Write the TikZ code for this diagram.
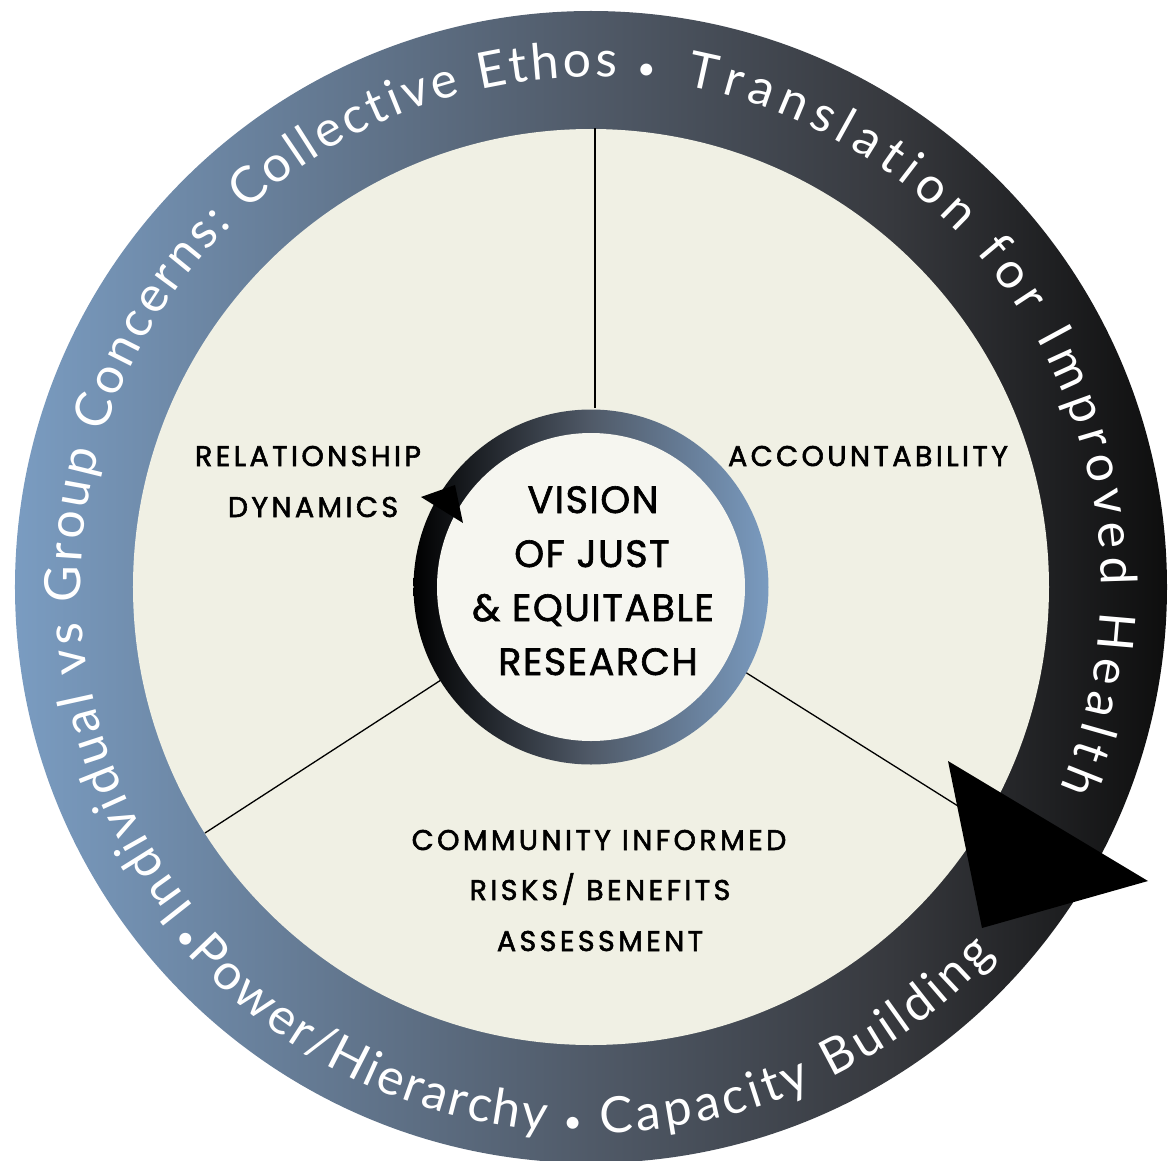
\documentclass[tikz,border=0pt]{standalone}
\usepackage{fontspec}
\usetikzlibrary{decorations.text}

% fonts
\newfontfamily\capsfam[LetterSpace=12,FakeBold=2]{Poppins}
\newfontfamily\hubfam[LetterSpace=4,FakeBold=1.6]{Poppins}
\newfontfamily\ringfam{Lato}
\newcommand\ringtext{\ringfam\fontsize{50}{50}\selectfont}
\newcommand\dotsize{\ringfam\fontsize{32}{32}\selectfont}

% colours
\definecolor{ringA}{RGB}{122,156,193}
\definecolor{ringB}{RGB}{80,90,104}
\definecolor{ringC}{RGB}{55,57,62}
\definecolor{ringD}{RGB}{14,14,14}
\definecolor{innerBlue}{RGB}{122,155,192}
\definecolor{beige}{RGB}{240,240,228}
\definecolor{hub}{RGB}{246,246,240}

% outer band: steel blue on the left fading to black on the right
\pgfdeclarehorizontalshading{outerring}{100bp}{%
  color(0bp)=(ringA); color(25bp)=(ringA); color(50bp)=(ringB);
  color(63bp)=(ringC); color(75bp)=(ringD); color(100bp)=(ringD)}
% hub ring: black on the left to blue on the right
\pgfdeclarehorizontalshading{hubring}{100bp}{%
  color(0bp)=(black); color(25bp)=(black); color(50bp)=(ringB);
  color(75bp)=(innerBlue); color(100bp)=(innerBlue)}

\begin{document}
\begin{tikzpicture}[x=1pt,y=1pt,
  divider/.style={line width=1.3pt, black},
  lbl/.style={font=\capsfam\fontsize{28.5}{28.5}\selectfont, anchor=base, inner sep=0pt, text=black},
  hubtxt/.style={font=\hubfam\fontsize{38}{38}\selectfont, anchor=base, inner sep=0pt, text=black},
  ringpath/.style={decorate, decoration={text along path, text color=white,
      text align=fit to path, text={#1}}}]
\useasboundingbox (-591,-573) rectangle (581,587);

% outer band and inner field
\shade[shading=outerring] (0,0) circle (576);
\fill[beige] (0,0) circle (458);

% three sector dividers
\coordinate (dTopIn) at (4,179);
\coordinate (dTopOut) at (4,459);
\coordinate (dLeftIn) at (-150,-93);
\coordinate (dLeftOut) at (-386,-246);
\coordinate (dRightIn) at (154,-85);
\coordinate (dRightOut) at (394,-236);
\draw[divider] (dTopIn) -- (dTopOut);
\draw[divider] (dLeftIn) -- (dLeftOut);
\draw[divider] (dRightIn) -- (dRightOut);

% hub ring and hub
\shade[shading=hubring] (0,0) circle (177.5);
\fill[hub] (0,0) circle (154);

% arrowhead on the hub ring
\fill[black] (-170,90) -- (-136,102) -- (-128,64) -- cycle;

% arrowhead on the outer band
\fill[black] (357,-174) -- (557,-294) -- (391,-341) -- cycle;

% lettering around the band
\path[ringpath={|\ringtext|Individual vs Group Concerns: Collective Ethos |\dotsize|•}]
  (219:510) arc[start angle=219, end angle=82.8, radius=510];
\path[ringpath={|\ringtext|Translation for Improved Health}]
  (79.3:510) arc[start angle=79.3, end angle=-23.2, radius=510];
\path[ringpath={|\dotsize|•|\ringtext|Power/Hierarchy |\dotsize|•}]
  (220:546) arc[start angle=220, end angle=269, radius=546];
\path[ringpath={|\ringtext|Capacity Building}]
  (271:546) arc[start angle=271, end angle=317.7, radius=546];

% sector labels
\node[lbl] (rel1) at (-283,121) {RELATIONSHIP};
\node[lbl] (rel2) at (-278,70) {DYNAMICS};
\node[lbl] (acc) at (277,121) {ACCOUNTABILITY};
\node[lbl] (com1) at (8,-263) {COMMUNITY INFORMED};
\node[lbl] (com2) at (9,-313) {RISKS/ BENEFITS};
\node[lbl] (com3) at (9,-364) {ASSESSMENT};

% hub text
\node[hubtxt] (hub1) at (2,74) {VISION};
\node[hubtxt] (hub2) at (1,20) {OF JUST};
\node[hubtxt] (hub3) at (2,-34) {\& EQUITABLE};
\node[hubtxt] (hub4) at (7,-88) {RESEARCH};
\end{tikzpicture}
\end{document}
